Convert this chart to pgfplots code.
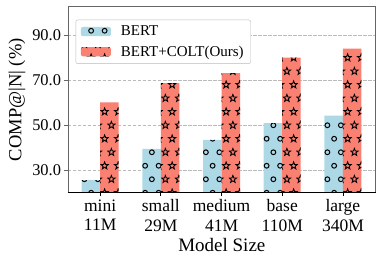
\documentclass[border=0pt]{standalone}
\usepackage{fontspec}
\setmainfont{Liberation Serif}
\usepackage{pgfplots}
\pgfplotsset{compat=1.18}
\usetikzlibrary{patterns.meta}
\definecolor{bertblue}{HTML}{ADD8E6}
\definecolor{coltred}{HTML}{FA8072}
\definecolor{spinegray}{HTML}{666666}
\definecolor{gridgray}{HTML}{BBBBBB}

\tikzdeclarepattern{
  name=mplcircles, type=uncolored,
  bottom left={(-1pt,-1pt)}, top right={(14.5pt,28pt)},
  tile size={(13.5pt,27pt)},
  code={
    \draw[line width=1pt] (3.375pt,6.75pt) circle[radius=2.4pt];
    \draw[line width=1pt] (10.125pt,20.25pt) circle[radius=2.4pt];
  }
}
\tikzdeclarepattern{
  name=mplstars, type=uncolored,
  bottom left={(-1pt,-1pt)}, top right={(14.5pt,28pt)},
  tile size={(13.5pt,27pt)},
  code={
    \draw[line width=0.9pt, line join=miter, shift={(3.375pt,6.75pt)}]
      (90:3.8pt) -- (126:1.6pt) -- (162:3.8pt) -- (198:1.6pt) -- (234:3.8pt) --
      (270:1.6pt) -- (306:3.8pt) -- (342:1.6pt) -- (18:3.8pt) -- (54:1.6pt) -- cycle;
    \draw[line width=0.9pt, line join=miter, shift={(10.125pt,20.25pt)}]
      (90:3.8pt) -- (126:1.6pt) -- (162:3.8pt) -- (198:1.6pt) -- (234:3.8pt) --
      (270:1.6pt) -- (306:3.8pt) -- (342:1.6pt) -- (18:3.8pt) -- (54:1.6pt) -- cycle;
  }
}
\pgfplotsset{
  mylegend/.style={legend image code/.code={\path[##1] (0pt,-4.6pt) rectangle (30pt,4.6pt);}},
}

\begin{document}
\begin{tikzpicture}
\begin{axis}[
  scale only axis, width=307.7pt, height=186pt,
  ymin=20, ymax=102.7, xmin=-0.53, xmax=4.54,
  ybar=0pt, bar width=18.5pt,
  xtick={0,1,2,3,4},
  xticklabels={{mini\\11M},{small\\29M},{medium\\41M},{base\\110M},{large\\340M}},
  xticklabel style={align=center, font=\fontsize{17.5}{19.5}\selectfont},
  ytick={30,50,70,90},
  yticklabel={\pgfmathprintnumber[fixed,fixed zerofill,precision=1,assume math mode=true]{\tick}},
  yticklabel style={font=\fontsize{16.4}{18}\selectfont},
  ymajorgrids,
  major grid style={gridgray, line width=0.8pt, dash pattern=on 3.5pt off 1.5pt},
  axis line style={spinegray, line width=0.8pt},
  tick align=outside, major tick length=3.5pt,
  xtick pos=lower, ytick pos=left,
  xtick style={black, line width=0.8pt},
  ytick style={spinegray, line width=0.8pt},
  xlabel={Model Size},
  ylabel={COMP@|N| (\%)},
  xlabel style={font=\fontsize{19}{22}\selectfont},
  ylabel style={font=\fontsize{18.5}{22}\selectfont},
  legend style={at={(0.025,0.93)}, anchor=north west, draw=gridgray,
    rounded corners=2pt, font=\fontsize{15}{18}\selectfont,
    row sep=4.5pt, column sep=8pt, inner xsep=5pt, inner ysep=4pt},
  legend cell align=left,
  after end axis/.code={\draw[black, line width=0.8pt] (rel axis cs:0,0) -- (rel axis cs:1,0);},
]
\addplot[fill=bertblue, draw=none, bar shift=-9.25pt,
  postaction={pattern=mplcircles, pattern color=black}, mylegend]
  coordinates {(0,25.6) (1,39.5) (2,43.5) (3,50.9) (4,54.3)};
\addlegendentry{BERT}
\addplot[fill=coltred, draw=none, bar shift=9.25pt,
  postaction={pattern=mplstars, pattern color=black}, mylegend]
  coordinates {(0,60.2) (1,68.7) (2,73.2) (3,80.1) (4,84.1)};
\addlegendentry{BERT+COLT(Ours)}
\end{axis}
\pgfresetboundingbox
\path[use as bounding box] ([shift={(-68pt,-74.3pt)}]current axis.south west) rectangle ([shift={(7.3pt,6.7pt)}]current axis.north east);
\end{tikzpicture}
\end{document}
